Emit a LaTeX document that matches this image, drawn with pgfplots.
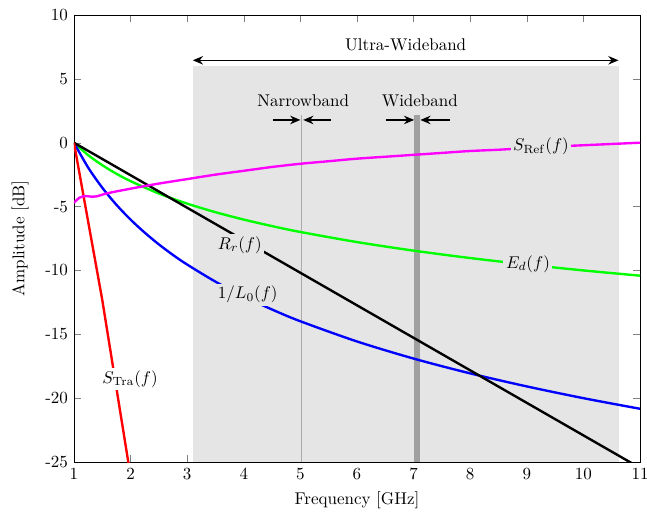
\documentclass[border=0pt]{standalone}
\usepackage{pgfplots}
\pgfplotsset{compat=1.18}
\usetikzlibrary{arrows.meta}
\definecolor{bandbg}{RGB}{229,229,229}
\definecolor{nbgray}{RGB}{170,170,170}
\definecolor{wbgray}{RGB}{160,160,160}
\definecolor{pmag}{RGB}{255,0,255}
\definecolor{pgreen}{RGB}{0,255,0}
\begin{document}
\begin{tikzpicture}
\begin{axis}[
  scale only axis,
  width=333pt, height=263pt,
  xmin=1, xmax=11, ymin=-25, ymax=10,
  xtick={1,2,...,11}, ytick={-25,-20,...,10},
  xlabel={Frequency [GHz]}, ylabel={Amplitude [dB]},
  ylabel style={at={(axis description cs:-0.095,0.5)}, anchor=center},
  /pgf/number format/assume math mode=true,
  tick align=inside,
  clip=true,
]
% band regions
\addplot[fill=bandbg, draw=none] coordinates {(3.1,-25) (10.62,-25) (10.62,6) (3.1,6)} -- cycle;
\addplot[nbgray, line width=1.1pt] coordinates {(5.02,-25) (5.02,2.2)};
\addplot[fill=wbgray, draw=none] coordinates {(7.01,-25) (7.12,-25) (7.12,2.2) (7.01,2.2)} -- cycle;
% curves
\addplot[pgreen, line width=1.4pt, smooth] coordinates {
(1,0) (1.25,-0.97) (1.5,-1.76) (1.75,-2.43) (2,-3.01) (2.5,-3.98) (3,-4.77) (3.5,-5.44) (4,-6.02) (4.5,-6.53) (5,-6.99) (6,-7.78) (7,-8.45) (8,-9.03) (9,-9.54) (10,-10.0) (11,-10.41)};
\addplot[blue, line width=1.4pt, smooth] coordinates {
(1,0) (1.25,-1.94) (1.5,-3.52) (1.75,-4.86) (2,-6.02) (2.25,-7.04) (2.5,-7.96) (2.75,-8.79) (3,-9.54) (3.5,-10.88) (4,-12.04) (4.5,-13.06) (5,-13.98) (6,-15.56) (7,-16.90) (8,-18.06) (9,-19.08) (10,-20.0) (11,-20.83)};
\addplot[black, line width=1.4pt] coordinates {(1,0) (11,-25.46)};
\addplot[red, line width=1.4pt] coordinates {(1,0) (1.5,-12.3) (1.96,-25) (2.0,-26.1)};
\addplot[pmag, line width=1.4pt, smooth] coordinates {
(1.0,-4.7) (1.1,-4.3) (1.2,-4.18) (1.3,-4.22) (1.4,-4.2) (1.6,-3.95) (2.0,-3.6) (2.5,-3.2) (3,-2.85) (3.5,-2.5) (4,-2.2) (4.5,-1.9) (5,-1.65) (5.5,-1.45) (6,-1.25) (6.5,-1.1) (7,-0.95) (7.5,-0.8) (8,-0.65) (8.5,-0.55) (9,-0.42) (9.5,-0.3) (10,-0.2) (10.5,-0.1) (11,0)};
% annotations
\draw[{Stealth[length=6pt,width=5pt]}-{Stealth[length=6pt,width=5pt]}, thick] (axis cs:3.1,6.45) -- (axis cs:10.62,6.45);
\node at (axis cs:6.86,7.65) {Ultra-Wideband};
\node at (axis cs:5.05,3.3) {Narrowband};
\node at (axis cs:7.11,3.3) {Wideband};
\draw[-{Stealth[length=6pt,width=5pt]}, thick] (axis cs:4.52,1.78) -- (axis cs:5.0,1.78);
\draw[-{Stealth[length=6pt,width=5pt]}, thick] (axis cs:5.54,1.78) -- (axis cs:5.05,1.78);
\draw[-{Stealth[length=6pt,width=5pt]}, thick] (axis cs:6.52,1.78) -- (axis cs:7.01,1.78);
\draw[-{Stealth[length=6pt,width=5pt]}, thick] (axis cs:7.64,1.78) -- (axis cs:7.12,1.78);
\node[fill=bandbg, inner sep=1.5pt] at (axis cs:9.25,-0.3) {$S_{\mathrm{Ref}}(f)$};
\node[fill=bandbg, inner sep=1.5pt] at (axis cs:9.02,-9.5) {$E_d(f)$};
\node[fill=bandbg, inner sep=1.5pt] at (axis cs:3.93,-8.0) {$R_r(f)$};
\node[fill=bandbg, inner sep=1.5pt] at (axis cs:4.07,-11.9) {$1/L_0(f)$};
\node[fill=white, inner sep=1.5pt] at (axis cs:1.99,-18.5) {$S_{\mathrm{Tra}}(f)$};
\end{axis}
\pgfresetboundingbox
\path ([xshift=-43.5pt,yshift=-30pt]current axis.south west) rectangle ([xshift=4.1pt,yshift=8.8pt]current axis.north east);
\end{tikzpicture}
\end{document}
